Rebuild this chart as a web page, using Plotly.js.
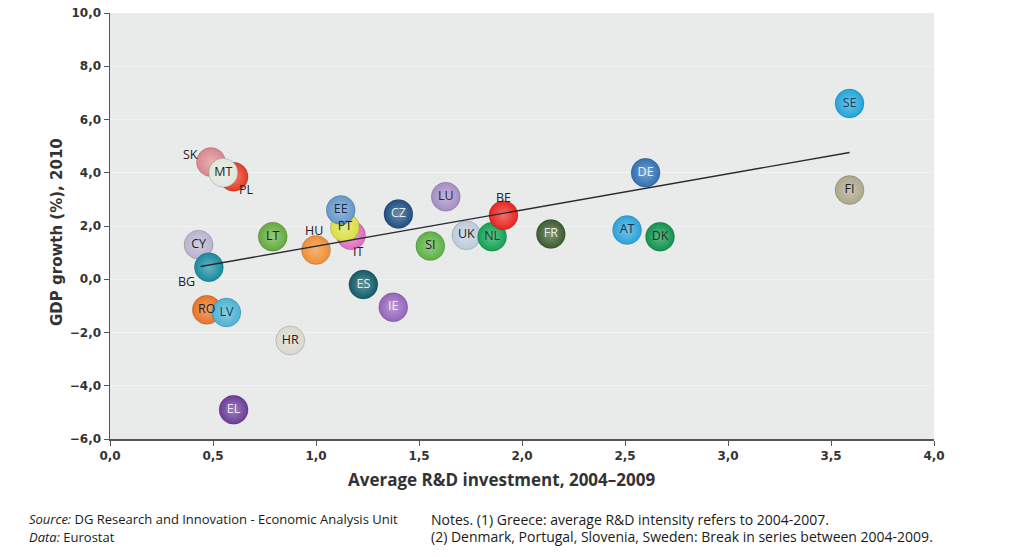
<!DOCTYPE html>
<html>
<head>
<meta charset="utf-8">
<script src="https://cdn.plot.ly/plotly-3.0.1.min.js"></script>
<style>
html,body{margin:0;padding:0;background:#fff;}
#chart{width:1024px;height:557px;}
</style>
</head>
<body>
<div id="chart"></div>
<script>
// Data (drawing order: later points sit on top)
const countries = ["SK","PL","MT","CY","BG","LT","HU","IT","PT","EE","CZ","ES","IE","LU","SI","UK","NL","BE","FR","AT","DK","DE","SE","FI","RO","LV","HR","EL"];
const rdInvestment = [0.49,0.60,0.55,0.43,0.48,0.79,1.00,1.17,1.14,1.12,1.40,1.23,1.375,1.63,1.555,1.73,1.855,1.91,2.14,2.51,2.67,2.60,3.59,3.59,0.47,0.565,0.875,0.60];
const gdpGrowth = [4.4,3.85,4.0,1.3,0.45,1.6,1.1,1.65,1.95,2.6,2.45,-0.2,-1.05,3.1,1.25,1.65,1.6,2.4,1.7,1.85,1.6,4.0,6.6,3.35,-1.15,-1.25,-2.3,-4.9];
const bubbleColors = ["#d9868b","#e33a22","#dfe7dc","#b9b2cf","#168aa0","#62aa3c","#f08c34","#e06cc2","#d7df42","#6297c9","#1d4e80","#0f5a68","#9463ba","#a48ec3","#5ab242","#bccbdb","#12a152","#e8231e","#3b5a31","#2ba2da","#0f924c","#3170b1","#22a3da","#aba78b","#ea7224","#4ab2d2","#dad8ce","#6b3b99"];
const labelColors = ["#222","#222","#222","#222","#222","#222","#222","#222","#222","#1e2a44","#e8eef5","#e5f0f2","#f2ecf8","#2a2440","#222","#222","#1d3b24","#222","#e6eee2","#12304a","#123b22","#e8f0fa","#13406a","#222","#222","#12405a","#222","#efe8f6"];
// Which labels sit outside their bubble
const outsideLabels = ["SK","PL","BG","HU","IT","BE"];
// Trend line endpoints
const trendX = [0.44, 3.59];
const trendY = [0.48, 4.76];
const xTicks = [0,0.5,1,1.5,2,2.5,3,3.5,4];
const yTicks = [-6,-4,-2,0,2,4,6,8,10];

// label pixel offsets for outside labels (style)
const outsideOffsets = {SK:[-20,8], PL:[13,-13], BG:[-22,-14], HU:[-2,19], IT:[7,-16], BE:[0,18]};

function lighten(hex, f){
  const n = parseInt(hex.slice(1),16);
  let r=(n>>16)&255, g=(n>>8)&255, b=n&255;
  r=Math.round(r+(255-r)*f); g=Math.round(g+(255-g)*f); b=Math.round(b+(255-b)*f);
  return "rgb("+r+","+g+","+b+")";
}
const gradColors = bubbleColors.map(c=>lighten(c,0.35));
const insideText = countries.map(c => outsideLabels.includes(c) ? "" : c);

const labelFamily = "Open Sans, DejaVu Sans, sans-serif";
const bubbles = {
  type:"scatter", mode:"markers+text",
  x: rdInvestment, y: gdpGrowth, text: insideText,
  textposition: "middle center",
  textfont:{family:labelFamily, size:12.5, color:labelColors},
  marker:{size:29, color:bubbleColors, line:{width:0.6,color:"rgba(0,0,0,0.25)"},
          gradient:{type:"radial", color:gradColors}},
  hoverinfo:"skip", cliponaxis:false, showlegend:false
};
const trend = {
  type:"scatter", mode:"lines", x: trendX, y: trendY,
  line:{color:"#2b2b2b", width:1.4}, hoverinfo:"skip", showlegend:false
};

const outsideAnn = countries.map((c,i)=>{
  if(!outsideLabels.includes(c)) return null;
  const o = outsideOffsets[c];
  return {xref:"x", yref:"y", x:rdInvestment[i], y:gdpGrowth[i], text:c, showarrow:false,
          xshift:o[0], yshift:o[1], xanchor:"center", yanchor:"middle",
          font:{family:labelFamily, size:12.5, color:"#222"}};
}).filter(a=>a);

const noteFont = {family:"Open Sans, DejaVu Sans, sans-serif", size:13, color:"#1a1a1a"};
const noteFont2 = {family:"Open Sans, DejaVu Sans, sans-serif", size:14, color:"#1a1a1a"};
const layout = {
  width:1024, height:557,
  margin:{l:110, r:90, t:13, b:118},
  paper_bgcolor:"#ffffff", plot_bgcolor:"#e9eaea",
  separators:",.",
  showlegend:false,
  xaxis:{range:[0,4], tickvals:xTicks, tickformat:".1f", showgrid:false, zeroline:false,
         showline:true, linecolor:"#555", linewidth:1.5, ticks:"outside", ticklen:5, tickcolor:"#555",
         tickfont:{family:"DejaVu Sans, sans-serif", size:12, weight:"bold", color:"#333"}},
  yaxis:{range:[-6,10], tickvals:yTicks, tickformat:".1f", showgrid:true, gridcolor:"#f2f2f2", gridwidth:1,
         zeroline:false, showline:true, linecolor:"#555", linewidth:1.5, ticks:"outside", ticklen:5, tickcolor:"#555",
         tickfont:{family:"DejaVu Sans, sans-serif", size:12, weight:"bold", color:"#333"}},
  annotations:[
    {xref:"paper", yref:"paper", x:0.4757, y:-0.0962, xanchor:"center", yanchor:"middle", showarrow:false,
     text:"Average R&D investment, 2004–2009",
     font:{family:"Open Sans, DejaVu Sans, sans-serif", size:17, weight:"bold", color:"#333"}},
    {xref:"paper", yref:"paper", x:-0.0643, y:0.486, xanchor:"center", yanchor:"middle", showarrow:false,
     textangle:-90, text:"GDP growth (%), 2010",
     font:{family:"DejaVu Sans, sans-serif", size:15, weight:"bold", color:"#333"}},
    {xref:"paper", yref:"paper", x:-0.101, y:-0.188, xanchor:"left", yanchor:"middle", showarrow:false,
     text:"<i>Source:</i> DG Research and Innovation - Economic Analysis Unit", font:noteFont},
    {xref:"paper", yref:"paper", x:-0.101, y:-0.230, xanchor:"left", yanchor:"middle", showarrow:false,
     text:"<i>Data:</i> Eurostat", font:noteFont},
    {xref:"paper", yref:"paper", x:0.387, y:-0.188, xanchor:"left", yanchor:"middle", showarrow:false,
     text:"Notes. (1) Greece: average R&D intensity refers to 2004-2007.", font:noteFont2},
    {xref:"paper", yref:"paper", x:0.387, y:-0.230, xanchor:"left", yanchor:"middle", showarrow:false,
     text:"(2) Denmark, Portugal, Slovenia, Sweden: Break in series between 2004-2009.", font:noteFont2}
  ].concat(outsideAnn)
};
Plotly.newPlot("chart",[bubbles, trend],layout,{displayModeBar:false, staticPlot:true});
</script>
</body>
</html>
